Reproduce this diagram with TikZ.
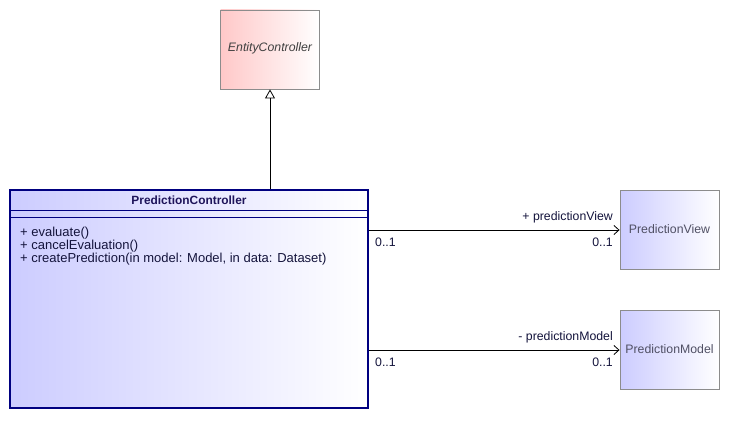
\documentclass[tikz,border=0pt]{standalone}
\usepackage{fontspec}
\setmainfont{Liberation Sans}
\usetikzlibrary{arrows.meta,calc}
\definecolor{navyb}{RGB}{0,0,128}
\definecolor{boxgray}{RGB}{140,140,140}
\definecolor{pinkl}{RGB}{255,200,200}
\definecolor{bluel}{RGB}{204,204,255}
\definecolor{nametxt}{RGB}{30,20,90}
\definecolor{optxt}{RGB}{20,20,60}
\definecolor{graytxt}{RGB}{80,80,100}
\definecolor{ectxt}{RGB}{64,64,64}
\tikzset{
  every node/.style={font=\fontsize{12.3}{13}\selectfont, inner sep=0pt},
  classbox/.style={draw=boxgray, line width=0.9pt, rectangle, minimum width=99pt, minimum height=79pt, right color=white},
  mainbox/.style={draw=navyb, line width=1.3pt, rectangle, minimum width=358pt, minimum height=218pt, left color=bluel, right color=white},
  assoc/.style={line width=0.8pt, -{Straight Barb[length=5pt,width=9pt]}},
  gen/.style={line width=0.8pt, -{Triangle[open,length=9pt,width=10pt]}},
  mult/.style={text=optxt},
}
\begin{document}
\begin{tikzpicture}[x=1pt,y=-1pt]
\useasboundingbox[fill=white] (0,0) rectangle (730,420);
% classes
\node[classbox, left color=pinkl] (ec) at (270,49.5) {};
\node[text=ectxt, font=\fontsize{12.3}{13}\selectfont\itshape] (ect) at (270,48) {EntityController};
\node[mainbox] (pc) at (189,299) {};
\node[classbox, left color=bluel] (pv) at (669.5,229.5) {};
\node[text=graytxt] (pvt) at (pv.center) {PredictionView};
\node[classbox, left color=bluel] (pm) at (669.5,349.5) {};
\node[text=graytxt] (pmt) at (pm.center) {PredictionModel};
% compartments of PredictionController
\node[text=nametxt, font=\fontsize{11.9}{13}\selectfont\bfseries] (pcn) at ($(pc.north)+(0,10.5)$) {PredictionController};
\draw[navyb, line width=0.9pt] ($(pc.north west)+(0,21)$) -- ($(pc.north east)+(0,21)$);
\draw[navyb, line width=0.9pt] ($(pc.north west)+(0,28)$) -- ($(pc.north east)+(0,28)$);
\node[text=optxt, anchor=north west, align=left, font=\fontsize{13}{13}\selectfont] (ops) at (20,226.5) {+ evaluate()\\+ cancelEvaluation()\\+ createPrediction(in model: Model, in data: Dataset)};
% generalization
\coordinate (gs) at (ec.south |- pc.north);
\draw[gen] (gs) -- (ec.south);
% associations
\coordinate (a1) at (pc.east |- 0,230);
\coordinate (a2) at (pc.east |- 0,350);
\draw[assoc] (a1) -- (a1 -| pv.west);
\draw[assoc] (a2) -- (a2 -| pm.west);
\node[text=optxt, anchor=base east] (l1) at (613,220) {+ predictionView};
\node[mult, anchor=base west] (m1a) at (375,246.5) {0..1};
\node[mult, anchor=base east] (m1b) at (613,246.5) {0..1};
\node[text=optxt, anchor=base east] (l2) at (613,340) {- predictionModel};
\node[mult, anchor=base west] (m2a) at (375,366.5) {0..1};
\node[mult, anchor=base east] (m2b) at (613,366.5) {0..1};
\end{tikzpicture}
\end{document}
